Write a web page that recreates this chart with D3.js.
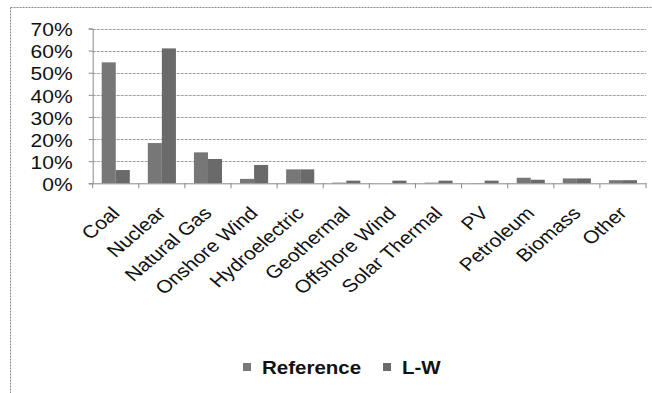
<!DOCTYPE html>
<html>
<head>
<meta charset="utf-8">
<script src="https://cdn.jsdelivr.net/npm/d3@7"></script>
<style>
  html, body { margin: 0; padding: 0; background: #fff; }
  svg { display: block; font-family: "Liberation Sans", Arial, sans-serif; }
</style>
</head>
<body>
<svg id="chart" width="652" height="393"></svg>
<script>
// Generation share by source, two scenarios
const categories = ["Coal", "Nuclear", "Natural Gas", "Onshore Wind", "Hydroelectric",
  "Geothermal", "Offshore Wind", "Solar Thermal", "PV", "Petroleum", "Biomass", "Other"];
const seriesNames = ["Reference", "L-W"];
const referenceValues = [0.547, 0.182, 0.140, 0.020, 0.063, 0.003, 0.000, 0.003, 0.001, 0.025, 0.022, 0.014];
const lwValues        = [0.060, 0.610, 0.110, 0.083, 0.063, 0.012, 0.012, 0.012, 0.012, 0.016, 0.022, 0.014];
const yTicks = [0, 0.1, 0.2, 0.3, 0.4, 0.5, 0.6, 0.7];

const seriesValues = [referenceValues, lwValues];
const colors = ["#777777", "#6a6a6a"];
const stretch = 1.17; // text is drawn slightly wide

const svg = d3.select("#chart");

// outer chart frame
svg.append("rect")
  .attr("x", 10.5).attr("y", 7.5).attr("width", 660).attr("height", 400)
  .attr("fill", "none").attr("stroke", "#8a8a8a").attr("stroke-width", 1)
  .attr("stroke-dasharray", "2,1");

const plot = { left: 92.7, right: 646, top: 28.5, bottom: 183.3 };

const x0 = d3.scaleBand().domain(categories).range([plot.left, plot.right]).padding(0);
const x1 = d3.scaleBand().domain(seriesNames).range([9, x0.bandwidth() - 9]).padding(0);
const y = d3.scaleLinear().domain([0, 0.7]).range([plot.bottom, plot.top]);

// gridlines
svg.append("g").selectAll("line")
  .data(yTicks.filter(d => d > 0))
  .join("line")
  .attr("x1", plot.left).attr("x2", plot.right)
  .attr("y1", d => Math.round(y(d)) + 0.5).attr("y2", d => Math.round(y(d)) + 0.5)
  .attr("stroke", "#a0a0a0").attr("stroke-width", 1)
  .attr("stroke-dasharray", "3,1");

// bars
const groups = svg.append("g").selectAll("g")
  .data(categories)
  .join("g")
  .attr("transform", d => `translate(${x0(d)},0)`);

groups.selectAll("rect")
  .data((d, i) => seriesNames.map((s, k) => ({ s, k, v: seriesValues[k][i] })))
  .join("rect")
  .attr("x", d => x1(d.s))
  .attr("width", x1.bandwidth())
  .attr("y", d => y(d.v))
  .attr("height", d => y(0) - y(d.v))
  .attr("fill", d => colors[d.k]);

// y axis
const yAxis = d3.axisLeft(y).tickValues(yTicks).tickFormat(d3.format(".0%")).tickSize(4);
const yg = svg.append("g").attr("transform", `translate(${plot.left},0)`).call(yAxis);
yg.select(".domain").attr("stroke", "#8a8a8a");
yg.selectAll(".tick line").attr("stroke", "#8a8a8a");
yg.selectAll(".tick text")
  .attr("font-size", 18).attr("fill", "#111")
  .attr("font-family", "\"Liberation Sans\", Arial, sans-serif")
  .attr("x", 0).attr("dy", "0.4em")
  .attr("transform", `translate(-20,0) scale(${stretch},1)`);

// x axis
const xAxis = d3.axisBottom(x0).tickSize(0).tickPadding(0);
const xg = svg.append("g").attr("transform", `translate(0,${plot.bottom})`).call(xAxis);
xg.select(".domain").attr("stroke", "#8a8a8a");
// category boundary ticks
xg.selectAll(".sep")
  .data(categories.map(c => x0(c)).concat([plot.right]))
  .join("line")
  .attr("class", "sep")
  .attr("x1", d => d).attr("x2", d => d)
  .attr("y1", 0).attr("y2", 5)
  .attr("stroke", "#8a8a8a");
xg.selectAll(".tick text")
  .attr("font-size", 18).attr("fill", "#111")
  .attr("font-family", "\"Liberation Sans\", Arial, sans-serif")
  .attr("text-anchor", "end")
  .attr("y", 0).attr("dy", "0")
  .attr("transform", `translate(5,31) scale(${stretch},1) rotate(-45)`);

// legend
const legend = svg.append("g").attr("transform", "translate(243,367)");
const items = [{ name: "Reference", x: 0 }, { name: "L-W", x: 140 }];
const li = legend.selectAll("g").data(items).join("g")
  .attr("transform", d => `translate(${d.x},0)`);
li.append("rect").attr("x", 0).attr("y", -4).attr("width", 8).attr("height", 8)
  .attr("fill", (d, i) => colors[i]);
li.append("text")
  .attr("transform", "translate(19,7) scale(1.08,1)")
  .attr("font-size", 19).attr("font-weight", "bold").attr("fill", "#111")
  .text(d => d.name);
</script>
</body>
</html>
